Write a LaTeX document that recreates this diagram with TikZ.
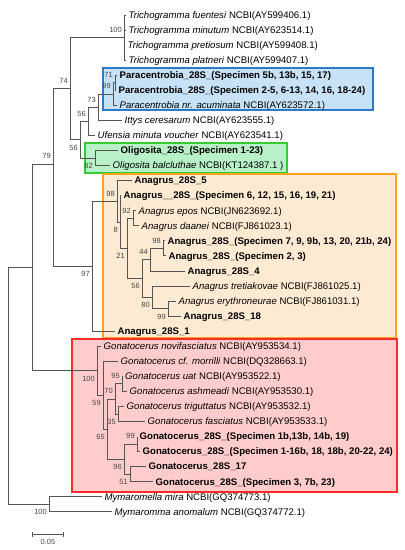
\documentclass[tikz,border=0pt]{standalone}
\usepackage{fontspec}
\setmainfont{Liberation Sans}
\usepackage{xcolor}
\usepackage{tikz}
\usetikzlibrary{positioning}

\definecolor{grigioRamo}{HTML}{555555}
\definecolor{grigioBoot}{HTML}{444444}
\definecolor{bordoBlu}{HTML}{2B7BC7}
\definecolor{fondoBlu}{HTML}{C7E2F6}
\definecolor{bordoVerde}{HTML}{33CC33}
\definecolor{fondoVerde}{HTML}{B8F0C8}
\definecolor{bordoArancio}{HTML}{F6A320}
\definecolor{fondoArancio}{HTML}{FDEAD2}
\definecolor{bordoRosso}{HTML}{FF2B2B}
\definecolor{fondoRosso}{HTML}{FFCCCC}

\begin{document}
\begin{tikzpicture}[x=1pt, y=-1pt,
    ramo/.style={draw=grigioRamo, line width=0.9pt},
    taxon/.style={anchor=west, inner xsep=2.5pt, inner ysep=0pt, text height=7pt, text depth=0.5pt, font=\fontsize{9.6}{11}\selectfont},
    boot/.style={inner sep=0pt, text=grigioBoot, font=\fontsize{7.5}{8}\selectfont},
    riquadro/.style={line width=1.4pt}]
\useasboundingbox (0,0) rectangle (405,550);

% riquadri dei gruppi
\draw[riquadro, draw=bordoBlu, fill=fondoBlu] (103,68) rectangle (373,110);
\draw[riquadro, draw=bordoVerde, fill=fondoVerde] (85,143) rectangle (287,173);
\draw[riquadro, draw=bordoArancio, fill=fondoArancio] (103,174) rectangle (396,338);
\draw[riquadro, draw=bordoRosso, fill=fondoRosso] (72,339) rectangle (397,492);

% foglie
\node[taxon] (Taxon1) at (126,15.0) {\textit{Trichogramma fuentesi} NCBI(AY599406.1)};
\node[taxon] (Taxon2) at (126,30.1) {\textit{Trichogramma minutum} NCBI(AY623514.1)};
\node[taxon] (Taxon3) at (125,45.1) {\textit{Trichogramma pretiosum} NCBI(AY599408.1)};
\node[taxon] (Taxon4) at (126,60.2) {\textit{Trichogramma platneri} NCBI(AY599407.1)};
\node[taxon] (Taxon5) at (117,75.2) {\textbf{Paracentrobia\_28S\_(Specimen 5b, 13b, 15, 17)}};
\node[taxon] (Taxon6) at (116,90.3) {\textbf{Paracentrobia\_28S\_(Specimen 2-5, 6-13, 14, 16, 18-24)}};
\node[taxon] (Taxon7) at (117,105.4) {\textit{Paracentrobia nr. acuminata} NCBI(AY623572.1)};
\node[taxon] (Taxon8) at (122,120.4) {\textit{Ittys ceresarum} NCBI(AY623555.1)};
\node[taxon] (Taxon9) at (95,135.5) {\textit{Ufensia minuta voucher} NCBI(AY623541.1)};
\node[taxon] (Taxon10) at (118,150.5) {\textbf{Oligosita\_28S\_(Specimen 1-23)}};
\node[taxon] (Taxon11) at (110,165.6) {\textit{Oligosita balcluthae} NCBI(KT124387.1 )};
\node[taxon] (Taxon12) at (132,180.7) {\textbf{Anagrus\_28S\_5}};
\node[taxon] (Taxon13) at (121,195.7) {\textbf{Anagrus\_\_28S\_(Specimen 6, 12, 15, 16, 19, 21)}};
\node[taxon] (Taxon14) at (136,210.8) {\textit{Anagrus epos} NCBI(JN623692.1)};
\node[taxon] (Taxon15) at (139,225.8) {\textit{Anagrus daanei} NCBI(FJ861023.1)};
\node[taxon] (Taxon16) at (165,240.9) {\textbf{Anagrus\_28S\_(Specimen 7, 9, 9b, 13, 20, 21b, 24)}};
\node[taxon] (Taxon17) at (166,255.9) {\textbf{Anagrus\_28S\_(Specimen 2, 3)}};
\node[taxon] (Taxon18) at (185,271.0) {\textbf{Anagrus\_28S\_4}};
\node[taxon] (Taxon19) at (190,286.1) {\textit{Anagrus tretiakovae} NCBI(FJ861025.1)};
\node[taxon] (Taxon20) at (176,301.1) {\textit{Anagrus erythroneurae} NCBI(FJ861031.1)};
\node[taxon] (Taxon21) at (181,316.2) {\textbf{Anagrus\_28S\_18}};
\node[taxon] (Taxon22) at (115,331.2) {\textbf{Anagrus\_28S\_1}};
\node[taxon] (Taxon23) at (101,346.3) {\textit{Gonatocerus novifasciatus} NCBI(AY953534.1)};
\node[taxon] (Taxon24) at (118,361.3) {\textit{Gonatocerus cf. morrilli} NCBI(DQ328663.1)};
\node[taxon] (Taxon25) at (122.5,376.4) {\textit{Gonatocerus uat} NCBI(AY953522.1)};
\node[taxon] (Taxon26) at (127,391.4) {\textit{Gonatocerus ashmeadi} NCBI(AY953530.1)};
\node[taxon] (Taxon27) at (124,406.5) {\textit{Gonatocerus triguttatus} NCBI(AY953532.1)};
\node[taxon] (Taxon28) at (145,421.6) {\textit{Gonatocerus fasciatus} NCBI(AY953533.1)};
\node[taxon] (Taxon29) at (137,436.6) {\textbf{Gonatocerus\_28S\_(Specimen 1b,13b, 14b, 19)}};
\node[taxon] (Taxon30) at (140,451.7) {\textbf{Gonatocerus\_28S\_(Specimen 1-16b, 18, 18b, 20-22, 24)}};
\node[taxon] (Taxon31) at (146,466.7) {\textbf{Gonatocerus\_28S\_17}};
\node[taxon] (Taxon32) at (153,481.8) {\textbf{Gonatocerus\_28S\_(Specimen 3, 7b, 23)}};
\node[taxon] (Taxon33) at (102,496.9) {\textit{Mymaromella mira} NCBI(GQ374773.1)};
\node[taxon] (Taxon34) at (112,511.9) {\textit{Mymaromma anomalum} NCBI(GQ374772.1)};

% nodi interni
\coordinate (Nodo1) at (8,385.9);
\coordinate (Nodo2) at (32,267.4);
\coordinate (Nodo3) at (53,164);
\coordinate (Nodo4) at (70,88.7);
\coordinate (Nodo5) at (124,37.6);
\coordinate (Nodo6) at (80,139.7);
\coordinate (Nodo7) at (88,121.4);
\coordinate (Nodo8) at (98,107.3);
\coordinate (Nodo9) at (113,94.1);
\coordinate (Nodo10) at (115,82.8);
\coordinate (Nodo11) at (95,158.1);
\coordinate (Nodo12) at (92,266.3);
\coordinate (Nodo13) at (117,201.4);
\coordinate (Nodo14) at (120,222.1);
\coordinate (Nodo15) at (127,248.4);
\coordinate (Nodo16) at (133,218.3);
\coordinate (Nodo17) at (142,278.5);
\coordinate (Nodo18) at (150,259.7);
\coordinate (Nodo19) at (163,248.4);
\coordinate (Nodo20) at (152,297.4);
\coordinate (Nodo21) at (168,308.7);
\coordinate (Nodo22) at (97,370.8);
\coordinate (Nodo23) at (103,395.2);
\coordinate (Nodo24) at (107,429.1);
\coordinate (Nodo25) at (115,399.0);
\coordinate (Nodo26) at (122,383.9);
\coordinate (Nodo27) at (118,414.0);
\coordinate (Nodo28) at (124,459.2);
\coordinate (Nodo29) at (137,444.1);
\coordinate (Nodo30) at (130,474.2);
\coordinate (Nodo31) at (49,504.4);

% rami
\draw[ramo] (Nodo1) |- (Nodo2);
\draw[ramo] (Nodo1) |- (Nodo31);
\draw[ramo] (Nodo2) |- (Nodo3);
\draw[ramo] (Nodo2) |- (Nodo22);
\draw[ramo] (Nodo3) |- (Nodo4);
\draw[ramo] (Nodo3) |- (Nodo12);
\draw[ramo] (Nodo4) |- (Nodo5);
\draw[ramo] (Nodo4) |- (Nodo6);
\draw[ramo] (Nodo5) |- (Taxon1.west);
\draw[ramo] (Nodo5) |- (Taxon2.west);
\draw[ramo] (Nodo5) |- (Taxon3.west);
\draw[ramo] (Nodo5) |- (Taxon4.west);
\draw[ramo] (Nodo6) |- (Nodo7);
\draw[ramo] (Nodo6) |- (Nodo11);
\draw[ramo] (Nodo7) |- (Nodo8);
\draw[ramo] (Nodo7) |- (Taxon9.west);
\draw[ramo] (Nodo8) |- (Nodo9);
\draw[ramo] (Nodo8) |- (Taxon8.west);
\draw[ramo] (Nodo9) |- (Nodo10);
\draw[ramo] (Nodo9) |- (Taxon7.west);
\draw[ramo] (Nodo10) |- (Taxon5.west);
\draw[ramo] (Nodo10) |- (Taxon6.west);
\draw[ramo] (Nodo11) |- (Taxon10.west);
\draw[ramo] (Nodo11) |- (Taxon11.west);
\draw[ramo] (Nodo12) |- (Nodo13);
\draw[ramo] (Nodo12) |- (Taxon22.west);
\draw[ramo] (Nodo13) |- (Taxon12.west);
\draw[ramo] (Nodo13) |- (Nodo14);
\draw[ramo] (Nodo14) |- (Taxon13.west);
\draw[ramo] (Nodo14) |- (Nodo15);
\draw[ramo] (Nodo15) |- (Nodo16);
\draw[ramo] (Nodo15) |- (Nodo17);
\draw[ramo] (Nodo16) |- (Taxon14.west);
\draw[ramo] (Nodo16) |- (Taxon15.west);
\draw[ramo] (Nodo17) |- (Nodo18);
\draw[ramo] (Nodo17) |- (Nodo20);
\draw[ramo] (Nodo18) |- (Nodo19);
\draw[ramo] (Nodo18) |- (Taxon18.west);
\draw[ramo] (Nodo19) |- (Taxon16.west);
\draw[ramo] (Nodo19) |- (Taxon17.west);
\draw[ramo] (Nodo20) |- (Taxon19.west);
\draw[ramo] (Nodo20) |- (Nodo21);
\draw[ramo] (Nodo21) |- (Taxon20.west);
\draw[ramo] (Nodo21) |- (Taxon21.west);
\draw[ramo] (Nodo22) |- (Taxon23.west);
\draw[ramo] (Nodo22) |- (Nodo23);
\draw[ramo] (Nodo23) |- (Taxon24.west);
\draw[ramo] (Nodo23) |- (Nodo24);
\draw[ramo] (Nodo24) |- (Nodo25);
\draw[ramo] (Nodo24) |- (Nodo28);
\draw[ramo] (Nodo25) |- (Nodo26);
\draw[ramo] (Nodo25) |- (Nodo27);
\draw[ramo] (Nodo26) |- (Taxon25.west);
\draw[ramo] (Nodo26) |- (Taxon26.west);
\draw[ramo] (Nodo27) |- (Taxon27.west);
\draw[ramo] (Nodo27) |- (Taxon28.west);
\draw[ramo] (Nodo28) |- (Nodo29);
\draw[ramo] (Nodo28) |- (Nodo30);
\draw[ramo] (Nodo29) |- (Taxon29.west);
\draw[ramo] (Nodo29) |- (Taxon30.west);
\draw[ramo] (Nodo30) |- (Taxon31.west);
\draw[ramo] (Nodo30) |- (Taxon32.west);
\draw[ramo] (Nodo31) |- (Taxon33.west);
\draw[ramo] (Nodo31) |- (Taxon34.west);

% valori di bootstrap
\node[boot, above left=4.9pt and 2pt of Nodo3] (Boot3) {79};
\node[boot, above left=4.9pt and 2pt of Nodo4] (Boot4) {74};
\node[boot, above left=4.9pt and 2pt of Nodo5] (Boot5) {100};
\node[boot, below left=4.9pt and 2pt of Nodo6] (Boot6) {56};
\node[boot, above left=4.9pt and 2pt of Nodo7] (Boot7) {56};
\node[boot, above left=4.9pt and 2pt of Nodo8] (Boot8) {73};
\node[boot, above left=4.9pt and 2pt of Nodo9] (Boot9) {99};
\node[boot, above left=4.9pt and 2pt of Nodo10] (Boot10) {71};
\node[boot, below left=4.9pt and 2pt of Nodo11] (Boot11) {82};
\node[boot, below left=4.9pt and 2pt of Nodo12] (Boot12) {97};
\node[boot, above left=4.9pt and 2pt of Nodo13] (Boot13) {98};
\node[boot, below left=4.9pt and 2pt of Nodo14] (Boot14) {8};
\node[boot, below left=4.9pt and 2pt of Nodo15] (Boot15) {21};
\node[boot, above left=4.9pt and 2pt of Nodo16] (Boot16) {92};
\node[boot, below left=4.9pt and 2pt of Nodo17] (Boot17) {56};
\node[boot, above left=4.9pt and 2pt of Nodo18] (Boot18) {44};
\node[boot, above left=4.9pt and 2pt of Nodo19] (Boot19) {98};
\node[boot, below left=4.9pt and 2pt of Nodo20] (Boot20) {80};
\node[boot, below left=4.9pt and 2pt of Nodo21] (Boot21) {99};
\node[boot, below left=4.9pt and 2pt of Nodo22] (Boot22) {100};
\node[boot, below left=4.9pt and 2pt of Nodo23] (Boot23) {59};
\node[boot, below left=4.9pt and 2pt of Nodo24] (Boot24) {65};
\node[boot, above left=4.9pt and 2pt of Nodo25] (Boot25) {70};
\node[boot, above left=4.9pt and 2pt of Nodo26] (Boot26) {95};
\node[boot, below left=4.9pt and 2pt of Nodo27] (Boot27) {35};
\node[boot, below left=4.9pt and 2pt of Nodo28] (Boot28) {96};
\node[boot, above left=4.9pt and 2pt of Nodo29] (Boot29) {99};
\node[boot, below left=4.9pt and 2pt of Nodo30] (Boot30) {51};
\node[boot, below left=4.9pt and 2pt of Nodo31] (Boot31) {100};

% scala
\coordinate (ScalaA) at (32,534);
\coordinate (ScalaB) at (63,534);
\draw[ramo] (ScalaA) -- (ScalaB);
\draw[ramo] ([yshift=2.5pt]ScalaA) -- ([yshift=-2.5pt]ScalaA);
\draw[ramo] ([yshift=2.5pt]ScalaB) -- ([yshift=-2.5pt]ScalaB);
\node[boot] (Scala) at (48,542) {0.05};
\end{tikzpicture}
\end{document}
